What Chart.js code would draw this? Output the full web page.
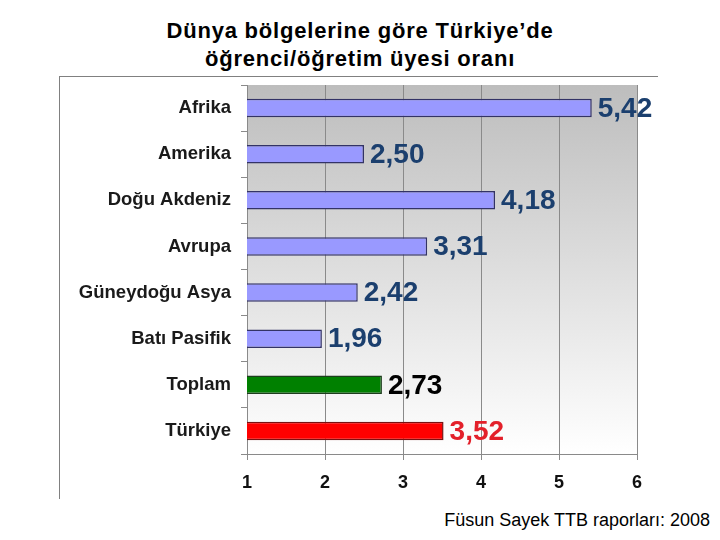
<!DOCTYPE html>
<html>
<head>
<meta charset="utf-8">
<script src="https://cdn.jsdelivr.net/npm/chart.js@4"></script>
<style>
  body { margin: 0; background: #fff; width: 720px; height: 540px; position: relative; overflow: hidden; font-family: "Liberation Sans", Arial, sans-serif; }
  #title { position: absolute; left: 0; top: 17px; width: 720px; text-align: center; font-size: 22px; font-weight: bold; letter-spacing: 0.8px; line-height: 28px; color: #000; }
  #frame { position: absolute; left: 59px; top: 76px; width: 598px; height: 422px; border-left: 1px solid #808080; border-top: 1px solid #808080; }
  #wrap { position: absolute; left: 60px; top: 77px; width: 597px; height: 421px; }
  #source { position: absolute; right: 10px; top: 510px; font-size: 18px; color: #000; }
</style>
</head>
<body>
<div id="title">Dünya bölgelerine göre Türkiye’de<br>öğrenci/öğretim üyesi oranı</div>
<div id="frame"></div>
<div id="wrap"><canvas id="chart"></canvas></div>
<div id="source">Füsun Sayek TTB raporları: 2008</div>
<script>
// chart data
const regions = ['Afrika', 'Amerika', 'Doğu Akdeniz', 'Avrupa', 'Güneydoğu Asya', 'Batı Pasifik', 'Toplam', 'Türkiye'];
const ratios = [5.42, 2.50, 4.18, 3.31, 2.42, 1.96, 2.73, 3.52];
const xTicks = [1, 2, 3, 4, 5, 6];

const barColors = ['#9999ff', '#9999ff', '#9999ff', '#9999ff', '#9999ff', '#9999ff', '#008000', '#ff0000'];
const barBorders = ['#333366', '#333366', '#333366', '#333366', '#333366', '#333366', '#1d3d1d', '#7a1010'];
const labelColors = ['#1b3f6e', '#1b3f6e', '#1b3f6e', '#1b3f6e', '#1b3f6e', '#1b3f6e', '#000000', '#e3202a'];

// gray-to-white fill behind the plot
const plotBackground = {
    id: 'plotBackground',
    beforeDraw(chart) {
        const { ctx, chartArea: a } = chart;
        const g = ctx.createLinearGradient(0, a.top, 0, a.bottom);
        g.addColorStop(0, '#bdbdbd');
        g.addColorStop(1, '#ffffff');
        ctx.save();
        ctx.fillStyle = g;
        ctx.fillRect(a.left, a.top, a.right - a.left, a.bottom - a.top);
        ctx.restore();
    }
};

// numbers at the end of each bar
const valueLabels = {
    id: 'valueLabels',
    afterDatasetsDraw(chart) {
        const ctx = chart.ctx;
        const meta = chart.getDatasetMeta(0);
        ctx.save();
        ctx.font = 'bold 28px "Liberation Sans", Arial, sans-serif';
        ctx.textAlign = 'left';
        ctx.textBaseline = 'middle';
        meta.data.forEach((bar, i) => {
            ctx.fillStyle = labelColors[i];
            ctx.fillText(ratios[i].toFixed(2).replace('.', ','), bar.x + 6, bar.y + 1);
        });
        ctx.restore();
    }
};

new Chart(document.getElementById('chart'), {
    type: 'bar',
    data: {
        labels: regions,
        datasets: [{
            data: ratios,
            backgroundColor: barColors,
            borderColor: barBorders,
            borderWidth: 1.5,
            borderSkipped: false,
            barPercentage: 0.4,
            categoryPercentage: 1
        }]
    },
    options: {
        indexAxis: 'y',
        responsive: true,
        maintainAspectRatio: false,
        animation: false,
        layout: { padding: { top: 8, right: 20, left: 0, bottom: 0 } },
        plugins: { legend: { display: false }, tooltip: { enabled: false } },
        scales: {
            x: {
                min: 1,
                max: 6,
                afterBuildTicks(scale) { scale.ticks = xTicks.map(v => ({ value: v })); },
                afterFit(scale) { scale.height = 44; scale.paddingLeft = 0; scale.paddingRight = 0; },
                grid: { color: '#8a8a8a', lineWidth: 1, tickLength: 6 },
                border: { color: '#8a8a8a' },
                ticks: { color: '#111', padding: 12, font: { family: '"Liberation Sans", Arial, sans-serif', size: 18, weight: 'bold' } }
            },
            y: {
                afterFit(scale) { scale.width = 187; scale.paddingTop = 0; scale.paddingBottom = 0; },
                grid: { drawOnChartArea: false, offset: true, color: '#8a8a8a', tickLength: 6 },
                border: { color: '#8a8a8a' },
                ticks: { color: '#1a1a1a', padding: 10, font: { family: '"Liberation Sans", Arial, sans-serif', size: 18.5, weight: 'bold' } }
            }
        }
    },
    plugins: [plotBackground, valueLabels]
});
</script>
</body>
</html>
